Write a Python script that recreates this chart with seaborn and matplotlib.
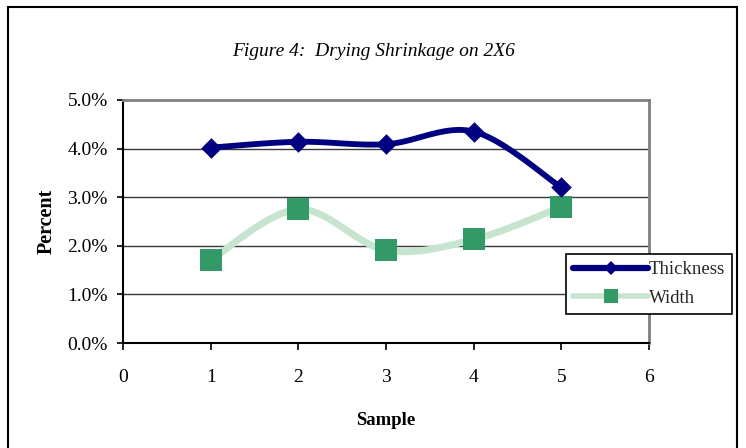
import numpy as np
import pandas as pd
import matplotlib
matplotlib.use("Agg")
import matplotlib.pyplot as plt
from matplotlib.lines import Line2D
from matplotlib.patches import Rectangle
from matplotlib.ticker import FuncFormatter
import seaborn as sns

# ---- data ----
samples = [1, 2, 3, 4, 5]
thickness = [4.02, 4.14, 4.09, 4.35, 3.20]
width = [1.71, 2.75, 1.91, 2.13, 2.80]
series_names = ["Thickness", "Width"]
title_text = "Figure 4:  Drying Shrinkage on 2X6"
x_label = "Sample"
y_label = "Percent"

sns.set_theme(style="white")
plt.rcParams["font.family"] = ["Liberation Serif", "DejaVu Serif"]

W, H = 746, 448
fig = plt.figure(figsize=(W / 100, H / 100), dpi=100)
fig.patch.set_facecolor("white")

# outer border
fig.patches.append(Rectangle((8 / W, -0.05), 729 / W, 1 - 7 / H + 0.05,
                             transform=fig.transFigure, fill=False,
                             edgecolor="black", linewidth=1.5, zorder=0))

ax = fig.add_axes([123 / W, 1 - 343 / H, (649 - 123) / W, (343 - 100) / H])
ax.set_facecolor("white")


def smooth(xs, ys, n=30):
    """Excel-like Bezier smoothing through the given points."""
    xs = np.asarray(xs, float)
    ys = np.asarray(ys, float)
    P = np.column_stack([xs, ys])
    out = []
    for i in range(len(P) - 1):
        p0 = P[i - 1] if i > 0 else P[i]
        p1 = P[i]
        p2 = P[i + 1]
        p3 = P[i + 2] if i + 2 < len(P) else P[i + 1]
        c1 = p1 + (p2 - p0) / 6.0
        c2 = p2 - (p3 - p1) / 6.0
        t = np.linspace(0, 1, n)[:, None]
        seg = ((1 - t) ** 3) * p1 + 3 * ((1 - t) ** 2) * t * c1 + 3 * (1 - t) * t ** 2 * c2 + t ** 3 * p2
        out.append(seg if i == 0 else seg[1:])
    seg = np.vstack(out)
    return seg[:, 0], seg[:, 1]

navy = "#000080"
green = "#339966"
pale = "#c6e4cf"

# Width series
wx, wy = smooth(samples, width)
sns.lineplot(x=wx, y=wy, sort=False, estimator=None, ax=ax, color=pale,
             linewidth=5, zorder=3, legend=False)
sns.scatterplot(x=samples, y=width, marker="s", s=16 ** 2, color=green,
                linewidth=0, ax=ax, zorder=4, legend=False)

# Thickness series
tx, ty = smooth(samples, thickness)
sns.lineplot(x=tx, y=ty, sort=False, estimator=None, ax=ax, color=navy,
             linewidth=4.2, zorder=5, legend=False)
sns.scatterplot(x=samples, y=thickness, marker="D", s=10.5 ** 2, color=navy,
                linewidth=0, ax=ax, zorder=6, legend=False)

ax.set_xlim(0, 6)
ax.set_ylim(0, 5)
ax.set_xticks(range(0, 7))
ax.set_yticks(np.arange(0, 5.01, 1.0))
ax.yaxis.set_major_formatter(FuncFormatter(lambda v, p: f"{v:.1f}%"))

for yv in [1, 2, 3, 4]:
    ax.axhline(yv, color="#3a3a3a", linewidth=1.0, zorder=1)

for s in ["left", "bottom"]:
    ax.spines[s].set_color("black")
    ax.spines[s].set_linewidth(1.5)
for s in ["top", "right"]:
    ax.spines[s].set_color("#808080")
    ax.spines[s].set_linewidth(2)

ax.tick_params(axis="x", direction="out", length=5, width=1.2, color="black",
               pad=14, labelsize=14, bottom=True)
ax.tick_params(axis="y", direction="out", length=4, width=1.2, color="black",
               pad=7, labelsize=14, left=True)
for lab in ax.get_xticklabels() + ax.get_yticklabels():
    lab.set_color("black")

ax.set_xlabel(x_label, fontsize=13.5, fontweight="bold", color="black")
ax.set_ylabel(y_label, fontsize=14.5, fontweight="bold", color="black")
ax.xaxis.set_label_coords(0.5, -(412 - 343) / 243)
ax.yaxis.set_label_coords(-(123 - 57) / 526, 0.5)

fig.text(374 / W, 1 - 52 / H, title_text, ha="center", va="center",
         fontsize=14, fontstyle="italic", color="black")

handles = [
    Line2D([], [], color=navy, linewidth=4.5, marker="D", markersize=7,
           markeredgewidth=0, solid_capstyle="round"),
    Line2D([], [], color=pale, linewidth=4, marker="s", markersize=10,
           markerfacecolor=green, markeredgewidth=0),
]
leg = ax.legend(handles, series_names, loc="upper left",
                bbox_to_anchor=(566 / W, 1 - 254 / H), bbox_transform=fig.transFigure,
                fontsize=13.5, frameon=True, fancybox=False, framealpha=1,
                edgecolor="black", borderpad=0.38, handlelength=4.0,
                handletextpad=0.05, labelspacing=0.6, borderaxespad=0)
leg.get_frame().set_linewidth(1.2)
leg.set_zorder(10)

fig.savefig("out.png", dpi=100)
